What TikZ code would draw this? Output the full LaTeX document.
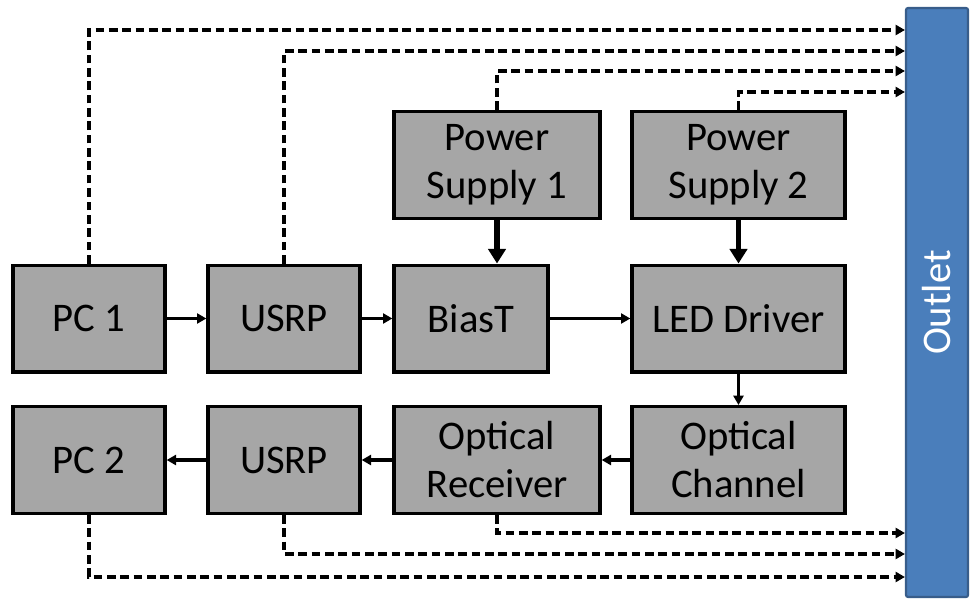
\documentclass[tikz,border=0pt]{standalone}
\usepackage{fontspec}
\setmainfont{Carlito}
\usetikzlibrary{arrows.meta,calc}
\definecolor{boxgray}{HTML}{A6A6A6}
\definecolor{outletblue}{HTML}{4A7EBB}
\definecolor{outletedge}{HTML}{385D8A}
\begin{document}
\begin{tikzpicture}[x=0.75pt,y=-0.75pt,
  blk/.style={draw=black,fill=boxgray,line width=2.5pt,inner sep=0pt,align=center,
    minimum height=80pt,font=\fontsize{30.5}{36}\selectfont},
  sig/.style={line width=2.5pt,-{Triangle[length=7pt,width=7.5pt]}},
  pwr/.style={line width=4.2pt,-{Triangle[length=11pt,width=13pt]}},
  mains/.style={line width=2.6pt,dash pattern=on 6.5pt off 3.5pt,-{Triangle[length=7pt,width=7.5pt]}}]
\useasboundingbox (0,0) rectangle (974,599);
% blocks
\node[blk,minimum width=114pt] (pc1) at (89,318.5) {PC 1};
\node[blk,minimum width=114pt] (usrp1) at (284,318.5) {USRP};
\node[blk,minimum width=115.5pt] (bias) at (471,318.5) {BiasT};
\node[blk,minimum width=159.75pt] (led) at (738.5,318.5) {LED Driver};
\node[blk,minimum width=154.5pt] (ps1) at (497,165) {Power\\Supply 1};
\node[blk,minimum width=159.75pt] (ps2) at (738.5,165) {Power\\Supply 2};
\node[blk,minimum width=114pt] (pc2) at (89,460) {PC 2};
\node[blk,minimum width=114pt] (usrp2) at (284,460) {USRP};
\node[blk,minimum width=154.5pt] (orx) at (497,460) {Optical\\Receiver};
\node[blk,minimum width=159.75pt] (och) at (738.5,460) {Optical\\Channel};
\node[draw=outletedge,fill=outletblue,line width=1.6pt,rounded corners=1.5pt,minimum width=46.5pt,minimum height=441.75pt,inner sep=0pt] (outlet) at (937,302.5) {};
\node[rotate=90,text=white,font=\fontsize{30.5}{36}\selectfont] (outlettext) at (outlet.center) {Outlet};
% signal chain
\draw[sig] (pc1) -- (usrp1);
\draw[sig] (usrp1) -- (bias);
\draw[sig] (bias) -- (led);
\draw[sig] (led) -- (och);
\draw[sig] (och) -- (orx);
\draw[sig] (orx) -- (usrp2);
\draw[sig] (usrp2) -- (pc2);
% power
\draw[pwr] (ps1.south) -- (ps1.south |- bias.north);
\draw[pwr] (ps2.south) -- (ps2.south |- led.north);
% mains connections
\coordinate (m1) at (outlet.west |- 0,30);
\coordinate (m2) at (outlet.west |- 0,51);
\coordinate (m3) at (outlet.west |- 0,71);
\coordinate (m4) at (outlet.west |- 0,92);
\coordinate (m5) at (outlet.west |- 0,533);
\coordinate (m6) at (outlet.west |- 0,554);
\coordinate (m7) at (outlet.west |- 0,577);
\draw[mains] (pc1.north) |- (m1);
\draw[mains] (usrp1.north) |- (m2);
\draw[mains] (ps1.north) |- (m3);
\draw[mains] (ps2.north) |- (m4);
\draw[mains] (orx.south) |- (m5);
\draw[mains] (usrp2.south) |- (m6);
\draw[mains] (pc2.south) |- (m7);
\end{tikzpicture}
\end{document}
